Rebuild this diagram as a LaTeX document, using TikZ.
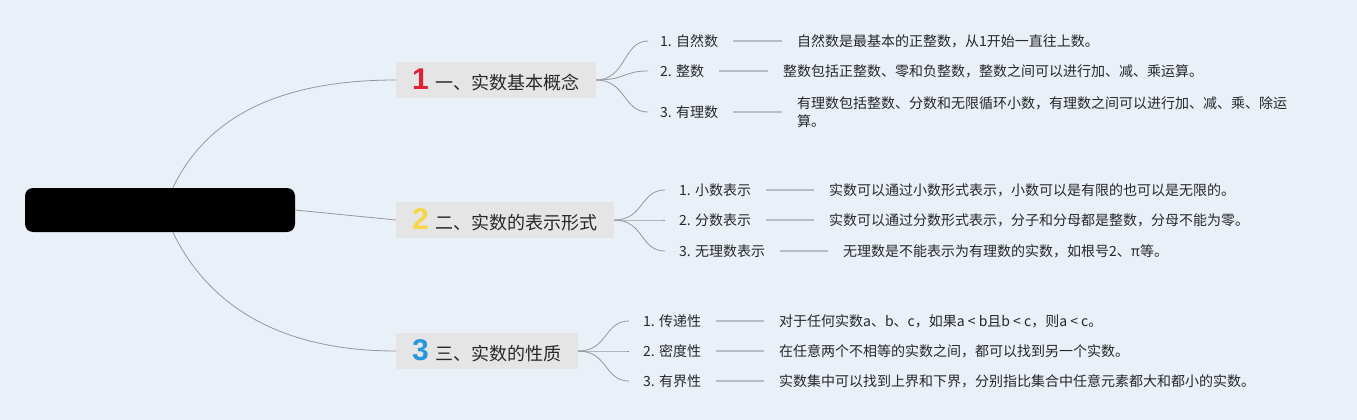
\documentclass[tikz,border=0pt]{standalone}
\usepackage{fontspec}
\setmainfont{Noto Sans CJK SC}
\newfontfamily\numfont{Liberation Sans}
\usetikzlibrary{positioning}
\definecolor{bgblue}{RGB}{233,240,248}
\definecolor{topicgray}{RGB}{229,229,230}
\definecolor{edgegray}{RGB}{150,152,156}
\definecolor{leafgray}{RGB}{184,190,198}
\definecolor{textdark}{RGB}{40,40,40}
\definecolor{numred}{RGB}{226,32,52}
\definecolor{numyellow}{RGB}{246,214,70}
\definecolor{numblue}{RGB}{38,150,222}
\tikzset{
  maproot/.style={fill=black, rounded corners=8pt, minimum width=270pt,
    minimum height=44pt, inner sep=0pt},
  maptopic/.style={fill=topicgray, anchor=west, minimum height=36pt, inner xsep=16pt,
    inner ysep=0pt, font=\fontsize{18}{20}\selectfont, text=textdark},
  mapsub/.style={anchor=west, inner sep=0pt, font=\fontsize{14}{18}\selectfont, text=textdark},
  mapdesc/.style={anchor=west, inner sep=0pt, align=left,
    font=\fontsize{14}{18}\selectfont, text=textdark},
  mapedge/.style={draw=edgegray, line width=0.8pt},
  mapleaf/.style={draw=leafgray, line width=2pt, shorten <=15pt, shorten >=15pt}
}
\newcommand{\topicnum}[2]{{\numfont\bfseries\fontsize{30}{30}\selectfont\color{#1}#2}\hspace{7pt}}

\begin{document}
\begin{tikzpicture}[x=1pt, y=-1pt]
  \fill[bgblue] (0,0) rectangle (1357,420);
  \useasboundingbox (0,0) rectangle (1357,420);
  % root and topics
  \node[maproot] (root) at (160,210) {};
  \node[maptopic] (t1) at (396,80) {\topicnum{numred}{1}一、实数基本概念};
  \node[maptopic] (t2) at (396,220) {\topicnum{numyellow}{2}二、实数的表示形式};
  \node[maptopic] (t3) at (396,351) {\topicnum{numblue}{3}三、实数的性质};
  % topic 1
  \node[mapsub] (s11) at (660,41) {1. 自然数};
  \node[mapsub] (s12) at (660,71) {2. 整数};
  \node[mapsub] (s13) at (660,112) {3. 有理数};
  \node[mapdesc] (d11) at (797,41) {自然数是最基本的正整数，从1开始一直往上数。};
  \node[mapdesc] (d12) at (783,71) {整数包括正整数、零和负整数，整数之间可以进行加、减、乘运算。};
  \node[mapdesc] (d13) at (797,112) {有理数包括整数、分数和无限循环小数，有理数之间可以进行加、减、乘、除运\\算。};
  % topic 2
  \node[mapsub] (s21) at (679,190) {1. 小数表示};
  \node[mapsub] (s22) at (679,220) {2. 分数表示};
  \node[mapsub] (s23) at (679,251) {3. 无理数表示};
  \node[mapdesc] (d21) at (829,190) {实数可以通过小数形式表示，小数可以是有限的也可以是无限的。};
  \node[mapdesc] (d22) at (829,220) {实数可以通过分数形式表示，分子和分母都是整数，分母不能为零。};
  \node[mapdesc] (d23) at (843,251) {无理数是不能表示为有理数的实数，如根号2、π等。};
  % topic 3
  \node[mapsub] (s31) at (643,321) {1. 传递性};
  \node[mapsub] (s32) at (643,351) {2. 密度性};
  \node[mapsub] (s33) at (643,381) {3. 有界性};
  \node[mapdesc] (d31) at (779,321) {对于任何实数a、b、c，如果a < b且b < c，则a < c。};
  \node[mapdesc] (d32) at (779,351) {在任意两个不相等的实数之间，都可以找到另一个实数。};
  \node[mapdesc] (d33) at (779,381) {实数集中可以找到上界和下界，分别指比集合中任意元素都大和都小的实数。};
  % connectors
  \draw[mapedge] (root.60) .. controls +(30,-62) and +(-130,0) .. (t1.west);
  \draw[mapedge] (root.east) -- (t2.west);
  \draw[mapedge] (root.-60) .. controls +(30,62) and +(-130,0) .. (t3.west);
  \foreach \s in {s11,s12,s13}
    \draw[mapedge] (t1.east) .. controls +(30,0) and +(-25,0) .. ([xshift=-12pt]\s.west);
  \foreach \s in {s21,s22,s23}
    \draw[mapedge] (t2.east) .. controls +(30,0) and +(-25,0) .. ([xshift=-14pt]\s.west);
  \foreach \s in {s31,s32,s33}
    \draw[mapedge] (t3.east) .. controls +(30,0) and +(-25,0) .. ([xshift=-14pt]\s.west);
  \draw[mapleaf] (s11.east) -- (d11.west);
  \draw[mapleaf] (s12.east) -- (d12.west);
  \draw[mapleaf] (s13.east) -- (d13.west);
  \draw[mapleaf] (s21.east) -- (d21.west);
  \draw[mapleaf] (s22.east) -- (d22.west);
  \draw[mapleaf] (s23.east) -- (d23.west);
  \draw[mapleaf] (s31.east) -- (d31.west);
  \draw[mapleaf] (s32.east) -- (d32.west);
  \draw[mapleaf] (s33.east) -- (d33.west);
\end{tikzpicture}
\end{document}
